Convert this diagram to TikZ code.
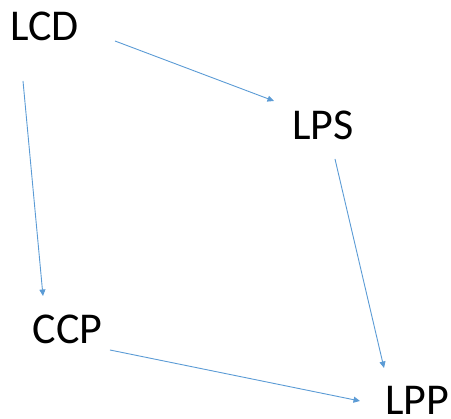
\documentclass[tikz,border=0pt]{standalone}
\usepackage{fontspec}
\setmainfont{Carlito}
\usetikzlibrary{arrows.meta}
\definecolor{arrblue}{HTML}{5B9BD5}
\begin{document}
\begin{tikzpicture}[x=1pt,y=-1pt,
  lbl/.style={inner sep=0pt,outer sep=0pt,anchor=base west,font=\fontsize{44}{52}\selectfont},
  arr/.style={draw=arrblue,line width=0.9pt,-{Triangle[length=6.5pt,width=6pt]}}]
\useasboundingbox (0,0) rectangle (451,419);
\node[lbl] (lcd) at (10,41) {LCD};
\node[lbl] (lps) at (292,140) {LPS};
\node[lbl] (ccp) at (33,344) {CCP};
\node[lbl] (lpp) at (385,415) {LPP};
\draw[arr] ([shift={(105,0)}]lcd.base west) -- ([shift={(-18,-39)}]lps.base west);
\draw[arr] ([shift={(13,40)}]lcd.base west) -- ([shift={(10,-48)}]ccp.base west);
\draw[arr] ([shift={(43,19)}]lps.base west) -- ([shift={(-1,-47)}]lpp.base west);
\draw[arr] ([shift={(77,6)}]ccp.base west) -- ([shift={(-25,-14)}]lpp.base west);
\end{tikzpicture}
\end{document}
